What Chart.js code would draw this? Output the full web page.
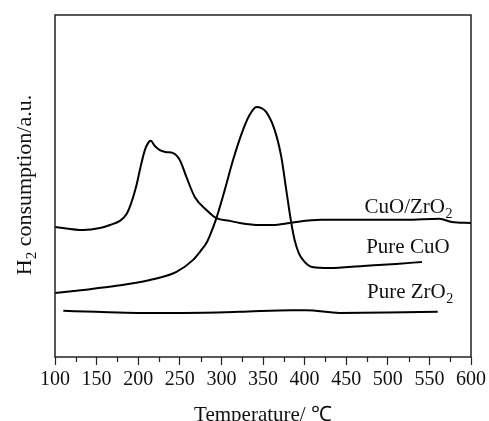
<!DOCTYPE html>
<html>
<head>
<meta charset="utf-8">
<script src="https://cdn.jsdelivr.net/npm/chart.js@4.4.1/dist/chart.umd.min.js"></script>
<style>
  html, body { margin: 0; padding: 0; background: #fff; }
  #wrap { width: 489px; height: 421px; position: relative; }
</style>
</head>
<body>
<div id="wrap"><canvas id="chart-tpr"></canvas></div>
<script>
// H2-TPR profiles, temperature in deg C, signal in a.u.
const cuoZro2T = [100, 134, 154, 166, 178, 186, 192, 198, 202, 208, 212, 215, 220, 226, 234, 242, 250, 258, 268, 282, 294, 310, 322, 346, 361, 382, 390, 420, 442, 480, 522, 562, 577, 600];
const cuoZro2Y = [38.0, 37.1, 37.7, 38.6, 39.8, 41.8, 45.3, 50.3, 54.7, 60.5, 62.6, 63.2, 61.7, 60.5, 59.9, 59.6, 57.6, 52.6, 46.8, 43.0, 40.6, 39.8, 39.2, 38.6, 38.6, 39.2, 39.5, 40.1, 40.1, 40.1, 40.1, 40.4, 39.5, 39.2];

const cuoT = [100, 134, 174, 214, 246, 266, 276, 282, 286, 294, 304, 314, 326, 334, 342, 348, 354, 364, 372, 378, 384, 388, 393, 398, 404, 409, 430, 470, 510, 541];
const cuoY = [18.7, 19.6, 20.8, 22.5, 24.9, 28.4, 31.3, 33.3, 35.4, 40.6, 48.8, 57.6, 66.4, 70.8, 73.1, 72.8, 71.6, 66.4, 58.5, 48.8, 39.2, 34.2, 30.4, 28.4, 26.9, 26.3, 26.0, 26.6, 27.2, 27.8];

const zro2T = [110, 150, 200, 254, 322, 385, 402, 442, 500, 560];
const zro2Y = [13.5, 13.2, 12.9, 12.9, 13.2, 13.7, 13.7, 12.9, 13.0, 13.2];

// curve labels: [main text, subscript, x value, y value]
const curveLabels = [
  ['CuO/ZrO', '2', 472, 42.0],
  ['Pure CuO', '', 474, 30.4],
  ['Pure ZrO', '2', 475, 17.3]
];

const toPoints = (xs, ys) => xs.map((x, i) => ({ x: x, y: ys[i] }));
const FONT = '"Liberation Serif", "Times New Roman", serif';

// text with an optional subscript tail
function drawSubText(ctx, main, sub, x, y, size) {
  ctx.font = size + 'px ' + FONT;
  ctx.textBaseline = 'alphabetic';
  ctx.textAlign = 'left';
  ctx.fillText(main, x, y);
  const w = ctx.measureText(main).width;
  if (sub) {
    ctx.font = Math.round(size * 0.68) + 'px ' + FONT;
    ctx.fillText(sub, x + w + 0.5, y + 5);
  }
}

const framePlugin = {
  id: 'frame',
  afterDraw(chart) {
    const { ctx, chartArea: a } = chart;
    const xs = chart.scales.x;
    const ys = chart.scales.y;
    ctx.save();
    ctx.strokeStyle = '#222';
    ctx.lineWidth = 1.5;
    ctx.strokeRect(a.left, a.top, a.right - a.left, a.bottom - a.top);

    // short minor ticks every 25
    ctx.lineWidth = 1.2;
    for (let v = 125; v < 600; v += 50) {
      const px = Math.round(xs.getPixelForValue(v)) + 0.5;
      ctx.beginPath();
      ctx.moveTo(px, a.bottom);
      ctx.lineTo(px, a.bottom + 5);
      ctx.stroke();
    }

    ctx.fillStyle = '#111';
    curveLabels.forEach(l => {
      drawSubText(ctx, l[0], l[1], xs.getPixelForValue(l[2]), ys.getPixelForValue(l[3]), 21);
    });

    // x title
    ctx.font = '21px ' + FONT;
    ctx.textAlign = 'center';
    ctx.textBaseline = 'alphabetic';
    ctx.fillText('Temperature/ \u2103', (a.left + a.right) / 2, 421);

    // y title, rotated, H2 with subscript
    ctx.translate(31, (a.top + a.bottom) / 2 - 1);
    ctx.rotate(-Math.PI / 2);
    ctx.font = '22px ' + FONT;
    const w1 = ctx.measureText('H').width;
    ctx.font = '15px ' + FONT;
    const w2 = ctx.measureText('2').width;
    ctx.font = '22px ' + FONT;
    const w3 = ctx.measureText(' consumption/a.u.').width;
    let x0 = -(w1 + w2 + w3) / 2;
    ctx.textAlign = 'left';
    ctx.fillText('H', x0, 0);
    ctx.font = '15px ' + FONT;
    ctx.fillText('2', x0 + w1, 5);
    ctx.font = '22px ' + FONT;
    ctx.fillText(' consumption/a.u.', x0 + w1 + w2, 0);
    ctx.restore();
  }
};

const lineStyle = {
  borderColor: '#000',
  borderWidth: 2,
  pointRadius: 0,
  fill: false,
  tension: 0.4,
  cubicInterpolationMode: 'monotone'
};

new Chart(document.getElementById('chart-tpr'), {
  type: 'line',
  data: {
    datasets: [
      Object.assign({ label: 'CuO/ZrO2', data: toPoints(cuoZro2T, cuoZro2Y) }, lineStyle),
      Object.assign({ label: 'Pure CuO', data: toPoints(cuoT, cuoY) }, lineStyle),
      Object.assign({ label: 'Pure ZrO2', data: toPoints(zro2T, zro2Y) }, lineStyle)
    ]
  },
  options: {
    responsive: true,
    maintainAspectRatio: false,
    animation: false,
    layout: { padding: { left: 55, right: 17, top: 15, bottom: 0 } },
    scales: {
      x: {
        type: 'linear',
        min: 100,
        max: 600,
        afterFit: (s) => { s.height = 64; },
        border: { display: false },
        grid: {
          drawOnChartArea: false,
          tickLength: 8,
          tickWidth: 1.2,
          tickColor: (c) => (c.tick && c.tick.value % 50 === 0 ? '#222' : 'rgba(0,0,0,0)')
        },
        ticks: {
          stepSize: 25,
          autoSkip: false,
          maxRotation: 0,
          padding: 3,
          color: '#111',
          font: { family: FONT, size: 20 },
          callback: (v) => (v % 50 === 0 ? v : '')
        }
      },
      y: {
        display: false,
        min: 0,
        max: 100
      }
    },
    plugins: {
      legend: { display: false },
      tooltip: { enabled: false }
    }
  },
  plugins: [framePlugin]
});
</script>
</body>
</html>
